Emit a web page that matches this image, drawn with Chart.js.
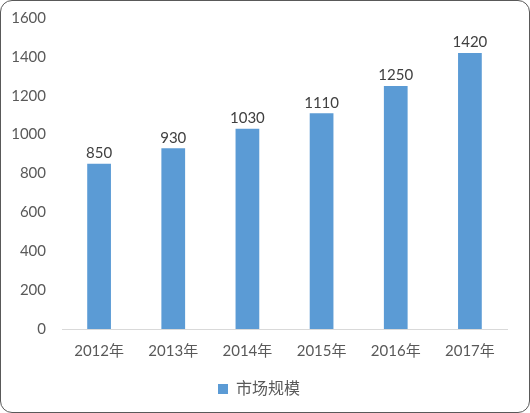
<!DOCTYPE html>
<html><head><meta charset="utf-8">
<script src="https://cdn.jsdelivr.net/npm/chart.js@4"></script>
<style>
html,body{margin:0;padding:0;background:#fff;}
#wrap{position:absolute;left:0;top:0;width:528px;height:411px;border:1px solid #595959;border-radius:12px;overflow:hidden;}
#c{display:block;}
</style></head><body>
<div id="wrap"><canvas id="c" width="528" height="411"></canvas></div>
<script>
const categories = ["2012年","2013年","2014年","2015年","2016年","2017年"];
const seriesName = "市场规模";
const values = [850, 930, 1030, 1110, 1250, 1420];
const FONT = 'Lato, "Noto Sans CJK SC", sans-serif';

const labelPlugin = {
  id: 'valueLabels',
  afterDatasetsDraw(chart) {
    const ctx = chart.ctx;
    const meta = chart.getDatasetMeta(0);
    ctx.save();
    ctx.font = '15px ' + FONT;
    ctx.fillStyle = '#404040';
    ctx.textAlign = 'center';
    ctx.textBaseline = 'bottom';
    meta.data.forEach((bar, i) => {
      ctx.fillText(String(values[i]), bar.x, bar.y - 3);
    });
    ctx.restore();
  }
};

new Chart(document.getElementById('c'), {
  type: 'bar',
  data: {
    labels: categories,
    datasets: [{
      label: seriesName,
      data: values,
      backgroundColor: '#5B9BD5',
      borderWidth: 0,
      barPercentage: 0.32,
      categoryPercentage: 1.0
    }]
  },
  options: {
    responsive: false,
    animation: false,
    layout: { padding: { top: 0, right: 22, left: 10, bottom: 5 } },
    plugins: {
      legend: {
        position: 'bottom',
        labels: {
          boxWidth: 10, boxHeight: 10, color: '#595959',
          font: { size: 16, family: FONT },
          padding: 16
        }
      },
      tooltip: { enabled: false }
    },
    scales: {
      x: {
        grid: { display: false },
        border: { display: true, color: '#D9D9D9', width: 1 },
        ticks: { color: '#595959', font: { size: 15, family: FONT }, padding: 5 }
      },
      y: {
        min: 0, max: 1600,
        afterFit: (s) => { s.width = 51; },
        ticks: { stepSize: 200, color: '#595959', font: { size: 15, family: FONT }, padding: 8,
          callback: (v) => String(v) },
        grid: { display: false },
        border: { display: false }
      }
    }
  },
  plugins: [labelPlugin]
});
</script>
</body></html>
